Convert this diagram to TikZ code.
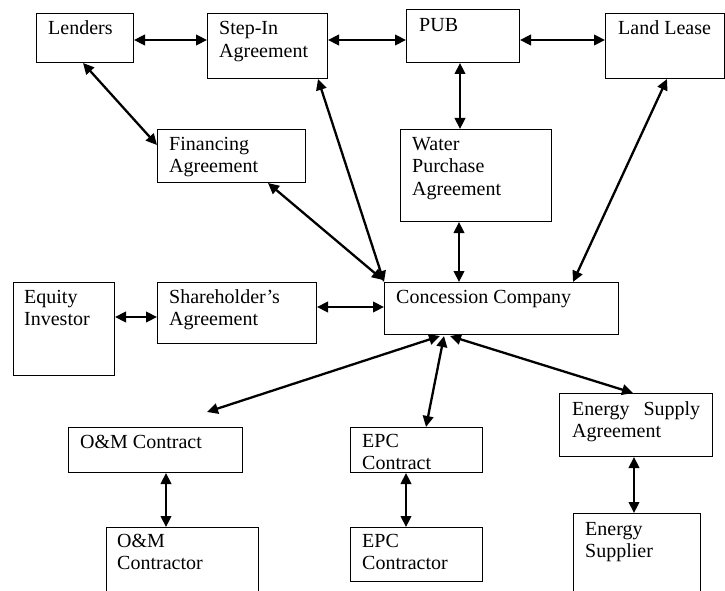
\documentclass[tikz,border=0pt]{standalone}
\usepackage{fontspec}
\setmainfont{Liberation Serif}
\usetikzlibrary{arrows.meta}
\newcommand{\tl}[1]{\parbox[t]{200pt}{\raggedright #1}}
\begin{document}
\begin{tikzpicture}[x=1pt,y=-1pt,
  frame/.style={draw=black, line width=1pt, rectangle, anchor=north west, inner sep=0pt},
  lbl/.style={anchor=base west, inner sep=0pt, font=\fontsize{20}{22.5}\selectfont},
  dbl/.style={{Triangle[length=11pt,width=10.5pt]}-{Triangle[length=11pt,width=10.5pt]}, line width=2.3pt}]
\clip (0,0) rectangle (725,591);
\fill[white] (0,0) rectangle (725,591);
% boxes
\node[frame, minimum width=97pt,  minimum height=49pt] (lenders) at (36,13) {};
\node[frame, minimum width=120pt, minimum height=65pt] (stepin) at (207,13) {};
\node[frame, minimum width=113pt, minimum height=53pt] (pub) at (406,9) {};
\node[frame, minimum width=119pt, minimum height=65pt] (land) at (605,13) {};
\node[frame, minimum width=148pt, minimum height=53pt] (fin) at (157,129) {};
\node[frame, minimum width=151pt, minimum height=92pt] (water) at (400,129) {};
\node[frame, minimum width=101pt, minimum height=93pt] (equity) at (13,282) {};
\node[frame, minimum width=159pt, minimum height=61pt] (share) at (157,282) {};
\node[frame, minimum width=234pt, minimum height=52pt] (conc) at (384,282) {};
\node[frame, minimum width=174pt, minimum height=45pt] (omc) at (68,427) {};
\node[frame, minimum width=152pt, minimum height=100pt] (omk) at (106,527) {};
\node[frame, minimum width=132pt, minimum height=45pt] (epc) at (350,427) {};
\node[frame, minimum width=132pt, minimum height=54pt] (epck) at (350,527) {};
\node[frame, minimum width=153pt, minimum height=63pt] (esa) at (559,393) {};
\node[frame, minimum width=127pt, minimum height=100pt] (sup) at (573,513) {};
% texts
\node[lbl] (lenders-t) at ([shift={(12,22)}]lenders.north west) {\tl{Lenders}};
\node[lbl] (stepin-t) at ([shift={(12,22)}]stepin.north west) {\tl{Step-In\\Agreement}};
\node[lbl] (pub-t) at ([shift={(13,23)}]pub.north west) {\tl{PUB}};
\node[lbl] (land-t) at ([shift={(13,22)}]land.north west) {\tl{Land Lease}};
\node[lbl] (fin-t) at ([shift={(12,21)}]fin.north west) {\tl{Financing\\Agreement}};
\node[lbl] (water-t) at ([shift={(12,21)}]water.north west) {\tl{Water\\Purchase\\Agreement}};
\node[lbl] (equity-t) at ([shift={(11,21)}]equity.north west) {\tl{Equity\\Investor}};
\node[lbl] (share-t) at ([shift={(12,21)}]share.north west) {\tl{Shareholder’s\\Agreement}};
\node[lbl] (conc-t) at ([shift={(12,21)}]conc.north west) {\tl{Concession Company}};
\node[lbl] (omc-t) at ([shift={(12,21)}]omc.north west) {\tl{O\&M Contract}};
\node[lbl] (omk-t) at ([shift={(11,20)}]omk.north west) {\tl{O\&M\\Contractor}};
\node[lbl] (epc-t) at ([shift={(12,20)}]epc.north west) {\tl{EPC\\Contract}};
\node[lbl] (epck-t) at ([shift={(12,20)}]epck.north west) {\tl{EPC\\Contractor}};
\node[lbl] (esa-t) at ([shift={(13,22)}]esa.north west) {\parbox[t]{128pt}{Energy\hfill Supply\\Agreement}};
\node[lbl] (sup-t) at ([shift={(12,22)}]sup.north west) {\tl{Energy\\Supplier}};
% free end
\coordinate (omtip) at (207,412);
% connectors
\draw[dbl] ([shift={(0,27)}]lenders.north east) -- ([shift={(0,27)}]stepin.north west);
\draw[dbl] ([shift={(0,27)}]stepin.north east) -- ([shift={(0,31)}]pub.north west);
\draw[dbl] ([shift={(0,31)}]pub.north east) -- ([shift={(0,27)}]land.north west);
\draw[dbl] ([shift={(54,0)}]pub.south west) -- ([shift={(60,0)}]water.north west);
\draw[dbl] ([shift={(47,0)}]lenders.south west) -- ([shift={(0,16)}]fin.north west);
\draw[dbl] ([shift={(111,0)}]stepin.south west) -- (conc.north west);
\draw[dbl] ([shift={(111,0)}]fin.south west) -- ([shift={(-1,-2)}]conc.north west);
\draw[dbl] ([shift={(59,0)}]water.south west) -- ([shift={(75,0)}]conc.north west);
\draw[dbl] ([shift={(62,0)}]land.south west) -- ([shift={(189,0)}]conc.north west);
\draw[dbl] ([shift={(0,35)}]equity.north east) -- ([shift={(0,35)}]share.north west);
\draw[dbl] ([shift={(0,25)}]share.north east) -- ([shift={(0,25)}]conc.north west);
\draw[dbl] ([shift={(56,1)}]conc.south west) -- (omtip);
\draw[dbl] ([shift={(60,1)}]conc.south west) -- ([shift={(76,0)}]epc.north west);
\draw[dbl] ([shift={(66,1)}]conc.south west) -- ([shift={(74,0)}]esa.north west);
\draw[dbl] ([shift={(98,0)}]omc.south west) -- ([shift={(60,0)}]omk.north west);
\draw[dbl] ([shift={(56,0)}]epc.south west) -- ([shift={(56,0)}]epck.north west);
\draw[dbl] ([shift={(75,0)}]esa.south west) -- ([shift={(61,0)}]sup.north west);
\end{tikzpicture}
\end{document}
